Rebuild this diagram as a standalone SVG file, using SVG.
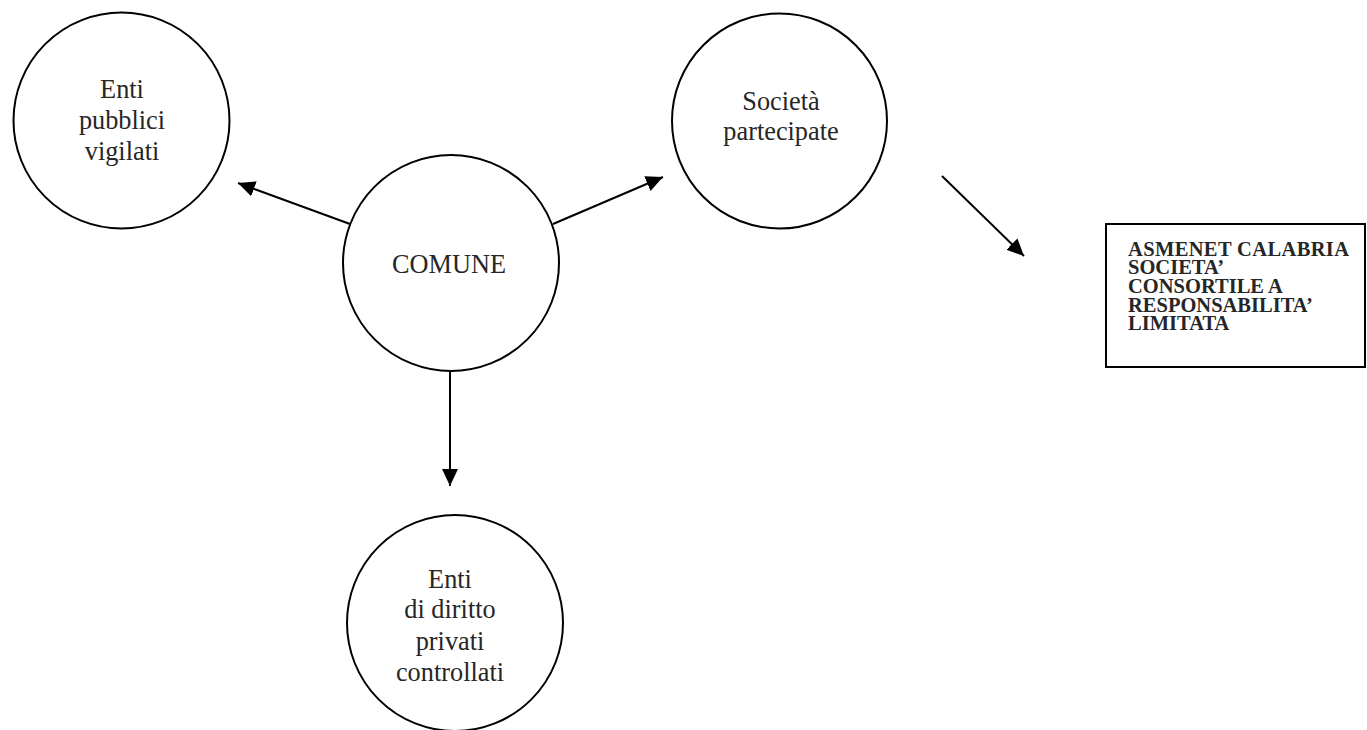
<svg xmlns="http://www.w3.org/2000/svg" width="1367" height="730" viewBox="0 0 1367 730">
<style>
.node{fill:#fff;stroke:#000;stroke-width:2}
.lbl{font-family:"Liberation Serif","Times New Roman",serif;font-size:26.3px;fill:#262626;text-anchor:middle}
.box{fill:#fff;stroke:#000;stroke-width:2}
.blbl{font-family:"Liberation Serif","Times New Roman",serif;font-size:20.5px;font-weight:bold;fill:#262626}
.edge{stroke:#000;stroke-width:2;fill:none;marker-end:url(#ah)}
</style>
<defs>
<marker id="ah" markerUnits="userSpaceOnUse" markerWidth="18" markerHeight="16" viewBox="0 0 18 16" refX="17" refY="8" orient="auto">
<path d="M0,0 L17,8 L0,16 Z" fill="#000"/>
</marker>
</defs>
<rect width="1367" height="730" fill="#fff"/>
<g id="connectors">
<line class="edge" x1="350" y1="224" x2="238" y2="183"/>
<line class="edge" x1="553" y1="224" x2="663" y2="177"/>
<line class="edge" x1="450" y1="372" x2="450" y2="486"/>
<line class="edge" x1="942" y1="176" x2="1024" y2="256"/>
</g>
<g id="enti-pubblici">
<circle class="node" cx="121.5" cy="120.5" r="108"/>
<text class="lbl" x="122" y="98">Enti</text>
<text class="lbl" x="122" y="129">pubblici</text>
<text class="lbl" x="122" y="160">vigilati</text>
</g>
<g id="comune">
<circle class="node" cx="451" cy="263" r="108"/>
<text class="lbl" x="449" y="273">COMUNE</text>
</g>
<g id="societa">
<circle class="node" cx="779.5" cy="121" r="107.5"/>
<text class="lbl" x="781" y="110">Società</text>
<text class="lbl" x="781" y="140">partecipate</text>
</g>
<g id="enti-privati">
<circle class="node" cx="455" cy="623" r="108"/>
<text class="lbl" x="450" y="588">Enti</text>
<text class="lbl" x="450" y="618">di diritto</text>
<text class="lbl" x="450" y="649.5">privati</text>
<text class="lbl" x="450" y="680.5">controllati</text>
</g>
<g id="asmenet">
<rect class="box" x="1106" y="224" width="259" height="143"/>
<text class="blbl" x="1128" y="255.5" textLength="221" lengthAdjust="spacing">ASMENET CALABRIA</text>
<text class="blbl" x="1128" y="274.2">SOCIETA’</text>
<text class="blbl" x="1128" y="292.9">CONSORTILE A</text>
<text class="blbl" x="1128" y="311.6">RESPONSABILITA’</text>
<text class="blbl" x="1128" y="330.3">LIMITATA</text>
</g>
</svg>
